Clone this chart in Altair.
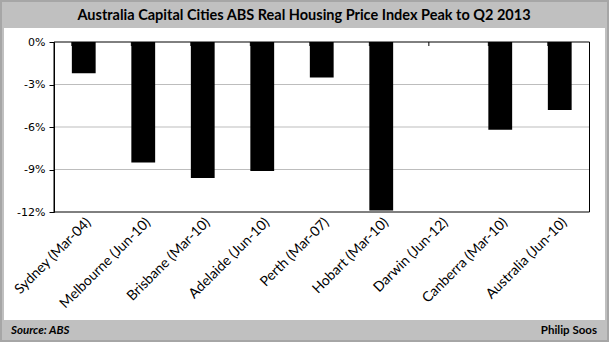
import altair as alt
import pandas as pd

categories = ["Sydney (Mar-04)", "Melbourne (Jun-10)", "Brisbane (Mar-10)", "Adelaide (Jun-10)",
              "Perth (Mar-07)", "Hobart (Mar-10)", "Darwin (Jun-12)", "Canberra (Mar-10)",
              "Australia (Jun-10)"]
values = [-2.2, -8.5, -9.6, -9.1, -2.5, -11.9, 0.0, -6.2, -4.8]
y_ticks = [0, -3, -6, -9, -12]
grid_values = [-3, -6, -9]
title_text = "Australia Capital Cities ABS Real Housing Price Index Peak to Q2 2013"
source_text = "Source: ABS"
author_text = "Philip Soos"

W, H = 535.5, 170
df = pd.DataFrame({"cat": categories, "val": values})
one = pd.DataFrame({"k": [0]})
grid_df = pd.DataFrame({"g": grid_values})

xscale = alt.Scale(domain=categories, paddingInner=0.6, paddingOuter=0.3)
yscale = alt.Scale(domain=[-12, 0], nice=False)

yaxis = alt.Axis(title=None, values=y_ticks, labelExpr="datum.value + '%'",
                 grid=False, domainColor="black", tickColor="black", tickSize=5,
                 labelFont="DejaVu Sans", labelFontSize=11, labelColor="black",
                 labelPadding=4, zindex=1)

outer = alt.Chart(one).mark_rect(fill=None, stroke="#a6a6a6", strokeWidth=2).encode(
    x=alt.value(-53), x2=alt.value(554), y=alt.value(-41), y2=alt.value(299))

panel = alt.Chart(one).mark_rect(fill="white").encode(
    x=alt.value(-50), x2=alt.value(551), y=alt.value(-14), y2=alt.value(278))

grid = alt.Chart(grid_df).mark_rule(color="#bdbdbd", strokeWidth=1).encode(
    y=alt.Y("g:Q", scale=yscale, axis=yaxis))

bars = alt.Chart(df).mark_bar(color="black").encode(
    x=alt.X("cat:N", scale=xscale, sort=categories,
            axis=alt.Axis(title=None, labelAngle=-45, labelAlign="right", labelBaseline="middle",
                          domain=False, ticks=False, labelPadding=8, labelFont="Lato",
                          labelFontSize=14, labelColor="black", zindex=1, labelOffset=5)),
    y=alt.Y("val:Q", scale=yscale, axis=yaxis),
    y2=alt.datum(0))

ticks = alt.Chart(df).mark_rule(color="black").encode(
    x=alt.X("cat:N", scale=xscale, sort=categories, bandPosition=0),
    y=alt.value(0), y2=alt.value(4))

frame = alt.Chart(one).mark_rect(fill=None, stroke="black", strokeWidth=1).encode(
    x=alt.value(0), x2=alt.value(W), y=alt.value(0), y2=alt.value(H))

title = alt.Chart(pd.DataFrame({"t": [title_text]})).mark_text(
    font="Lato", fontWeight="bold", fontSize=14.5, color="black", align="center", baseline="middle").encode(
    text="t:N", x=alt.value(250), y=alt.value(-26))

src = alt.Chart(pd.DataFrame({"t": [source_text]})).mark_text(
    font="Lato", fontWeight="bold", fontStyle="italic", fontSize=11.5, color="black",
    align="left", baseline="middle").encode(text="t:N", x=alt.value(-43), y=alt.value(289))

auth = alt.Chart(pd.DataFrame({"t": [author_text]})).mark_text(
    font="Lato", fontWeight="bold", fontSize=11.5, color="black",
    align="right", baseline="middle").encode(text="t:N", x=alt.value(543), y=alt.value(289))

chart = alt.layer(outer, panel, grid, bars, ticks, frame, title, src, auth).properties(
    width=W, height=H, background="#c0c0c0",
    padding={"left": 54, "top": 42, "right": 19.5, "bottom": 130},
    autosize=alt.AutoSizeParams(type="none")
).configure_view(stroke=None)

chart.save("out.html", embed_options={"renderer": "svg", "actions": False})
